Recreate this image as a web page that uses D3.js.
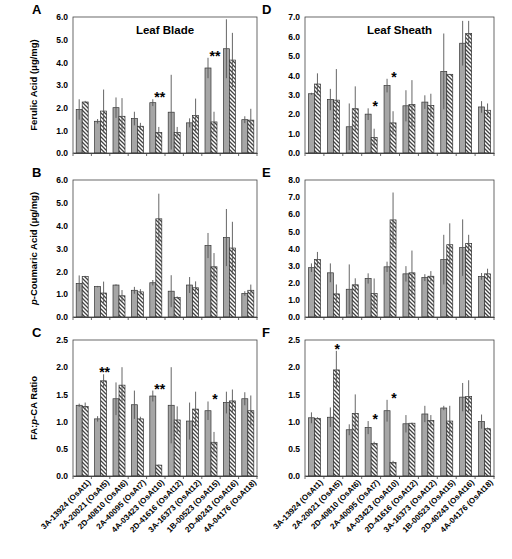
<!DOCTYPE html><html><head><meta charset="utf-8">
<script src="https://cdn.jsdelivr.net/npm/d3@7"></script>
<style>body{margin:0;background:#fff}text{font-family:Arial,"Liberation Sans",sans-serif;font-weight:bold}</style></head><body>
<script>
const categories=["3A-13924 (OsAt1)","2A-20021 (OsAt5)","2D-40810 (OsAt6)","2A-40095 (OsAt7)","4A-03423 (OsAt10)","2D-41616 (OsAt12)","3A-16373 (OsAt12)","1B-00523 (OsAt15)","2D-40243 (OsAt16)","4A-04176 (OsAt18)"];
const A_solid=[1.92,1.4,2.0,1.52,2.22,1.8,1.33,3.75,4.6,1.47];
const A_solidErr=[0.45,0.1,0.45,0.3,0.15,1.65,0.2,0.45,1.3,0.15];
const A_hatch=[2.25,1.85,1.62,1.18,0.9,0.9,1.65,1.37,4.1,1.45];
const A_hatchErr=[0.05,0.95,0.8,0.15,0.25,0.25,0.75,0.45,1.2,0.5];
const D_solid=[3.05,2.75,1.35,2.0,3.47,2.43,2.62,4.2,5.65,2.37];
const D_solidErr=[0.05,0.55,1.2,0.3,0.35,0.8,0.35,1.95,1.15,0.3];
const D_hatch=[3.55,2.72,2.28,0.8,1.55,2.5,2.45,4.05,6.15,2.2];
const D_hatchErr=[0.55,1.6,1.15,0.45,0.6,1.25,0.6,0.02,0.65,0.35];
const B_solid=[1.47,1.33,1.4,1.17,1.5,1.13,1.4,3.13,3.48,1.03];
const B_solidErr=[0.35,0.03,0.03,0.15,0.12,0.7,0.35,0.55,1.25,0.1];
const B_hatch=[1.77,1.05,0.93,1.1,4.3,0.85,1.28,2.2,3.02,1.17];
const B_hatchErr=[0.03,0.5,0.25,0.12,1.1,0.05,0.28,0.6,1.15,0.25];
const E_solid=[2.88,2.58,1.62,2.25,2.93,2.52,2.3,3.35,4.05,2.37];
const E_solidErr=[0.25,0.55,1.45,0.3,0.3,0.45,0.2,1.45,1.65,0.2];
const E_hatch=[3.35,1.35,1.88,1.37,5.67,2.58,2.38,4.22,4.3,2.52];
const E_hatchErr=[0.45,0.55,0.38,0.88,1.6,1.3,0.3,1.25,0.5,0.3];
const C_solid=[1.3,1.05,1.42,1.31,1.47,1.3,1.01,1.2,1.35,1.42];
const C_solidErr=[0.03,0.05,0.3,0.26,0.1,0.7,0.34,0.17,0.2,0.12];
const C_hatch=[1.28,1.75,1.67,1.05,0.2,1.03,1.23,0.62,1.38,1.2];
const C_hatchErr=[0.07,0.12,0.33,0.04,0.01,0.25,0.32,0.19,0.21,0.28];
const F_solid=[1.07,1.08,0.85,0.89,1.2,0.96,1.14,1.25,1.45,1.0];
const F_solidErr=[0.1,0.18,0.1,0.12,0.2,0.16,0.15,0.04,0.26,0.13];
const F_hatch=[1.06,1.95,1.15,0.6,0.25,0.97,1.02,1.01,1.46,0.87];
const F_hatchErr=[0.02,0.35,0.35,0.03,0.03,0.01,0.1,0.28,0.3,0.02];
const A_stars=[[4,"**"],[7,"**"]], D_stars=[[3,"*"],[4,"*"]], C_stars=[[1,"**"],[4,"**"],[7,"*"]], F_stars=[[1,"*"],[3,"*"],[4,"*"]];
const ticksA=[0,1,2,3,4,5,6], ticksD=[0,1,2,3,4,5,6,7], ticksE=[0,1,2,3,4,5,6,7,8], ticksC=[0,0.5,1,1.5,2,2.5];

const svg=d3.select("body").append("svg").attr("width",512).attr("height",559);
const pat=svg.append("defs").append("pattern").attr("id","hatch").attr("patternUnits","userSpaceOnUse").attr("width",4).attr("height",4);
pat.append("rect").attr("width",4).attr("height",4).attr("fill","#fff");
pat.append("path").attr("d","M-1,-1L5,5M-1,3L1,5M3,-1L5,1").attr("stroke","#444").attr("stroke-width",1.3);

function panel(o){
  const x=d3.scaleBand().domain(categories).range([o.x0,o.x1]);
  const y=d3.scaleLinear().domain([0,o.max]).range([o.y1,o.y0]);
  const g=svg.append("g");
  const bw=6;
  const data=categories.map((c,i)=>({c,s:o.s[i],se:o.se[i],h:o.h[i],he:o.he[i]}));
  const cx=d=>x(d.c)+x.bandwidth()/2;
  g.selectAll(".s").data(data).join("rect").attr("x",d=>cx(d)-bw).attr("width",bw).attr("y",d=>y(d.s)).attr("height",d=>y(0)-y(d.s)).attr("fill","#a6a6a6").attr("stroke","#333").attr("stroke-width",0.7);
  g.selectAll(".h").data(data).join("rect").attr("x",d=>cx(d)).attr("width",bw).attr("y",d=>y(d.h)).attr("height",d=>y(0)-y(d.h)).attr("fill","url(#hatch)").attr("stroke","#333").attr("stroke-width",0.7);
  g.selectAll(".se").data(data).join("line").attr("x1",d=>cx(d)-bw/2).attr("x2",d=>cx(d)-bw/2).attr("y1",d=>y(Math.max(0,d.s-d.se))).attr("y2",d=>y(d.s+d.se)).attr("stroke","#555").attr("stroke-width",0.9);
  g.selectAll(".he").data(data).join("line").attr("x1",d=>cx(d)+bw/2).attr("x2",d=>cx(d)+bw/2).attr("y1",d=>y(Math.max(0,d.h-d.he))).attr("y2",d=>y(d.h+d.he)).attr("stroke","#555").attr("stroke-width",0.9);
  g.append("rect").attr("x",o.x0).attr("y",o.y0).attr("width",o.x1-o.x0).attr("height",o.y1-o.y0).attr("fill","none").attr("stroke","#444").attr("stroke-width",0.8);
  const ya=g.append("g").attr("transform",`translate(${o.x0},0)`).call(d3.axisLeft(y).tickValues(o.ticks).tickFormat(d3.format(".1f")).tickSize(0).tickPadding(5));
  ya.select(".domain").remove();
  ya.selectAll("text").attr("font-size",8.5).attr("font-weight","bold").attr("font-family","Arial,sans-serif").attr("fill","#000");
  const xa=g.append("g").attr("transform",`translate(0,${o.y1})`).call(d3.axisBottom(x).tickSize(0).tickFormat(o.labels?null:""));
  xa.select(".domain").attr("stroke","#444");
  g.selectAll(".tk").data(d3.range(categories.length+1)).join("line").attr("x1",i=>o.x0+i*x.step()).attr("x2",i=>o.x0+i*x.step()).attr("y1",o.y1).attr("y2",o.y1+3).attr("stroke","#444").attr("stroke-width",0.8);
  if(o.labels){xa.selectAll("text").attr("font-size",8).attr("font-weight","bold").attr("font-family","Arial,sans-serif").attr("fill","#000").attr("text-anchor","end").attr("transform","translate(4,2) rotate(-45)").attr("dy","0.5em");}
  o.stars.forEach(([i,t])=>{const d=data[i];const top=Math.max(d.s+d.se,d.h+d.he);
    g.append("text").attr("x",cx(d)+4).attr("y",y(top)+3).attr("text-anchor","middle").attr("font-size",14).attr("fill","#000").text(t);});
  g.append("text").attr("x",o.lx).attr("y",o.y0-3).attr("font-size",13).attr("fill","#000").text(o.letter);
  if(o.title) g.append("text").attr("x",(o.x0+o.x1)/2).attr("y",o.y0+17).attr("text-anchor","middle").attr("font-size",11.5).attr("fill","#000").text(o.title);
  if(o.ylab){const t=g.append("text").attr("transform",`translate(${o.x0-36},${(o.y0+o.y1)/2}) rotate(-90)`).attr("text-anchor","middle").attr("font-size",9.5).attr("fill","#000");
    o.ylab.forEach(([s,it])=>t.append("tspan").attr("font-style",it?"italic":null).text(s));}
}
const L=[73,257],R=[305,494];
const rows=[[17,153],[180,317],[340,476]];
panel({x0:L[0],x1:L[1],y0:rows[0][0],y1:rows[0][1],max:6,ticks:ticksA,s:A_solid,se:A_solidErr,h:A_hatch,he:A_hatchErr,stars:A_stars,letter:"A",lx:32,title:"Leaf Blade",ylab:[["Ferulic Acid (μg/mg)",0]]});
panel({x0:R[0],x1:R[1],y0:rows[0][0],y1:rows[0][1],max:7,ticks:ticksD,s:D_solid,se:D_solidErr,h:D_hatch,he:D_hatchErr,stars:D_stars,letter:"D",lx:262,title:"Leaf Sheath"});
panel({x0:L[0],x1:L[1],y0:rows[1][0],y1:rows[1][1],max:6,ticks:ticksA,s:B_solid,se:B_solidErr,h:B_hatch,he:B_hatchErr,stars:[],letter:"B",lx:32,ylab:[["p",1],["-Coumaric  Acid (μg/mg)",0]]});
panel({x0:R[0],x1:R[1],y0:rows[1][0],y1:rows[1][1],max:8,ticks:ticksE,s:E_solid,se:E_solidErr,h:E_hatch,he:E_hatchErr,stars:[],letter:"E",lx:262});
panel({x0:L[0],x1:L[1],y0:rows[2][0],y1:rows[2][1],max:2.5,ticks:ticksC,s:C_solid,se:C_solidErr,h:C_hatch,he:C_hatchErr,stars:C_stars,letter:"C",lx:32,labels:true,ylab:[["FA:",0],["p",1],["-CA Ratio",0]]});
panel({x0:R[0],x1:R[1],y0:rows[2][0],y1:rows[2][1],max:2.5,ticks:ticksC,s:F_solid,se:F_solidErr,h:F_hatch,he:F_hatchErr,stars:F_stars,letter:"F",lx:262,labels:true});
</script></body></html>
